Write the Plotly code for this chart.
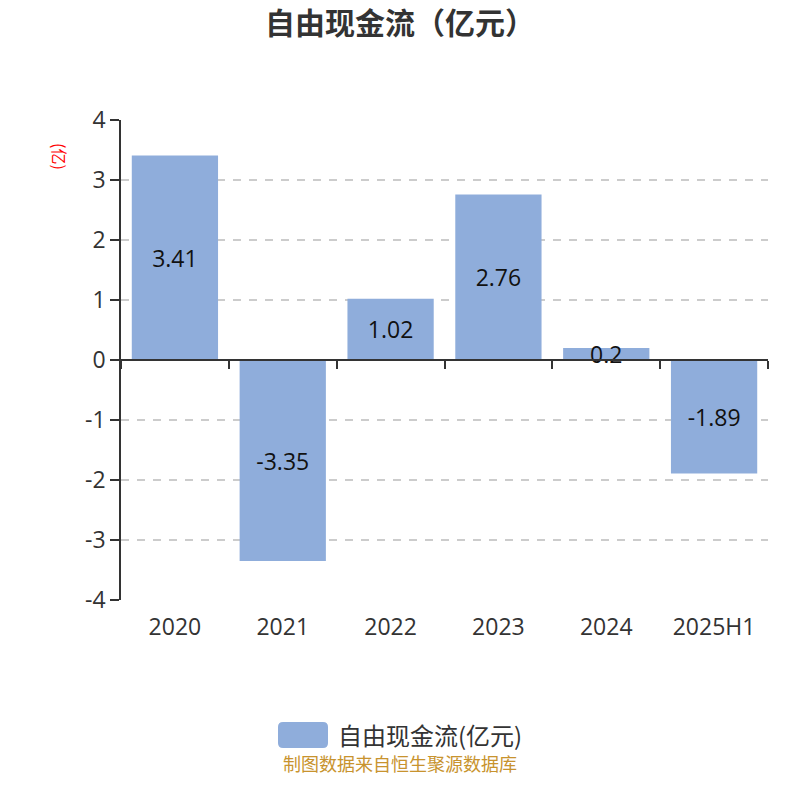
import plotly.graph_objects as go

categories = ["2020", "2021", "2022", "2023", "2024", "2025H1"]
values = [3.41, -3.35, 1.02, 2.76, 0.2, -1.89]
y_ticks = [4, 3, 2, 1, 0, -1, -2, -3, -4]
series_name = "自由现金流(亿元)"
title_text = "自由现金流（亿元）"
unit_text = "(亿)"
source_text = "制图数据来自恒生聚源数据库"

CJK_FONT = "Noto Sans CJK SC, Noto Sans, sans-serif"
NUM_FONT = "Open Sans, Noto Sans CJK SC, sans-serif"
BAR_COLOR = "#8FADDB"

W, H = 800, 800
ML, MR, MT, MB = 121, 32, 120, 200
PW, PH = W - ML - MR, H - MT - MB


def px_x(px):
    return (px - ML) / PW


def px_y(py):
    return (H - MB - py) / PH


fig = go.Figure()

fig.add_trace(go.Bar(
    x=categories,
    y=values,
    name=series_name,
    marker=dict(color=BAR_COLOR, line=dict(width=0)),
    text=[str(v) for v in values],
    textposition="inside",
    insidetextanchor="middle",
    textangle=0,
    constraintext="none",
    textfont=dict(family=NUM_FONT, size=23, color="#111111"),
    showlegend=False,
    hoverinfo="x+y",
))

# invisible helper trace so the zero-line axis with boundary ticks can be drawn
fig.add_trace(go.Scatter(
    x=[-0.5, len(categories) - 0.5], y=[0, 0], xaxis="x2", yaxis="y",
    mode="lines", line=dict(width=0), showlegend=False, hoverinfo="skip",
))

fig.update_layout(
    width=W, height=H,
    margin=dict(l=ML, r=MR, t=MT, b=MB),
    paper_bgcolor="white", plot_bgcolor="white",
    bargap=0.2,
    font=dict(family=CJK_FONT, color="#333333"),
    title=dict(
        text=f"<b>{title_text}</b>",
        x=0.5, xanchor="center", y=1 - 23 / H, yanchor="middle",
        font=dict(family=CJK_FONT, size=30, color="#333333"),
    ),
    xaxis=dict(
        type="category",
        range=[-0.5, len(categories) - 0.5],
        showline=False, showgrid=False, zeroline=False,
        ticks="", tickfont=dict(family=NUM_FONT, size=23, color="#333333"),
        ticklabelstandoff=11,
    ),
    xaxis2=dict(
        overlaying="x", anchor="free", position=0.5,
        range=[-0.5, len(categories) - 0.5],
        showline=True, linecolor="#333333", linewidth=1.5,
        ticks="outside", ticklen=8, tickcolor="#333333", tickwidth=1.5,
        tickvals=[i - 0.5 for i in range(len(categories) + 1)],
        showticklabels=False, showgrid=False, zeroline=False,
    ),
    yaxis=dict(
        range=[-4, 4],
        tickvals=y_ticks,
        ticktext=[str(t) for t in y_ticks],
        showline=True, linecolor="#333333", linewidth=1.5,
        ticks="outside", ticklen=9, tickcolor="#333333", tickwidth=1.5,
        tickfont=dict(family=NUM_FONT, size=23, color="#333333"),
        showgrid=True, gridcolor="#CCCCCC", griddash="8px,8px", gridwidth=2,
        zeroline=False,
    ),
)

# unit label beside the value axis
fig.add_annotation(
    text=unit_text, xref="paper", yref="paper",
    x=px_x(60), y=px_y(156), xanchor="center", yanchor="middle",
    showarrow=False, textangle=90,
    font=dict(family=CJK_FONT, size=16, color="#FF0000"),
)

# legend swatch and label
fig.add_shape(
    type="path", xref="paper", yref="paper",
    path=(
        f"M {px_x(283)} {px_y(722)} L {px_x(323)} {px_y(722)} "
        f"Q {px_x(328)} {px_y(722)} {px_x(328)} {px_y(727)} "
        f"L {px_x(328)} {px_y(743)} Q {px_x(328)} {px_y(748)} {px_x(323)} {px_y(748)} "
        f"L {px_x(283)} {px_y(748)} Q {px_x(278)} {px_y(748)} {px_x(278)} {px_y(743)} "
        f"L {px_x(278)} {px_y(727)} Q {px_x(278)} {px_y(722)} {px_x(283)} {px_y(722)} Z"
    ),
    fillcolor=BAR_COLOR, line=dict(width=0),
)
fig.add_annotation(
    text=series_name, xref="paper", yref="paper",
    x=px_x(337), y=px_y(734), xanchor="left", yanchor="middle", showarrow=False,
    borderpad=0,
    font=dict(family=CJK_FONT, size=24, color="#333333"),
)

# data source footer
fig.add_annotation(
    text=source_text, xref="paper", yref="paper",
    x=px_x(400), y=px_y(763), xanchor="center", yanchor="middle", showarrow=False,
    borderpad=0,
    font=dict(family=CJK_FONT, size=18, color="#C8932E"),
)

fig.write_html("out.html")
